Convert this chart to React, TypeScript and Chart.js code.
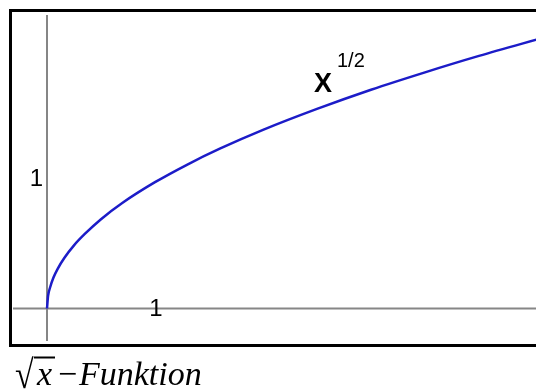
import React, { useEffect, useRef } from "react";
import { Chart, registerables } from "chart.js";

Chart.register(...registerables);

// Points (x units, y units)
const xValues = [0, 0.01, 0.03, 0.06, 0.1, 0.16, 0.25, 0.35, 0.5, 0.7, 1, 1.3, 1.6, 2, 2.5, 3, 3.5, 4, 4.6];
const yValues = [0, 0.1, 0.17, 0.245, 0.316, 0.4, 0.5, 0.59, 0.707, 0.837, 1, 1.14, 1.265, 1.414, 1.58, 1.732, 1.87, 2, 2.145];
const xTickLabels = ["1"];
const yTickLabels = ["1"];
const curveLabel = "X";
const curveExponent = "1/2";
const captionParts = ["\u221A", "x", "\u2212", "Funktion"];

const axisColor = "#868686";
const curveColor = "rgb(28,28,200)";

const decorPlugin = {
  id: "decor",
  beforeDatasetsDraw(chart: any) {
    const { ctx, scales } = chart;
    const xs = scales.x;
    const ys = scales.y;
    const x0 = xs.getPixelForValue(0);
    const y0 = ys.getPixelForValue(0);
    ctx.save();
    ctx.strokeStyle = axisColor;
    ctx.lineWidth = 2;
    ctx.beginPath();
    ctx.moveTo(x0, chart.chartArea.top);
    ctx.lineTo(x0, chart.chartArea.bottom);
    ctx.moveTo(chart.chartArea.left, y0);
    ctx.lineTo(chart.chartArea.right, y0);
    ctx.stroke();
    ctx.restore();
  },
  afterDraw(chart: any) {
    const { ctx, scales } = chart;
    const xs = scales.x;
    const ys = scales.y;
    const x0 = xs.getPixelForValue(0);
    const y0 = ys.getPixelForValue(0);
    ctx.save();
    // frame
    ctx.strokeStyle = "#000";
    ctx.lineWidth = 3;
    ctx.strokeRect(10.5, 10.5, 700, 335);

    // tick labels
    ctx.fillStyle = "#000";
    ctx.font = "24px 'Liberation Sans', Arial, sans-serif";
    ctx.textBaseline = "middle";
    ctx.textAlign = "center";
    ctx.fillText(xTickLabels[0], xs.getPixelForValue(1) + 1, y0 + 1);
    ctx.textAlign = "right";
    ctx.fillText(yTickLabels[0], x0 - 4, ys.getPixelForValue(1) - 3);

    // curve label
    ctx.textBaseline = "alphabetic";
    ctx.textAlign = "left";
    ctx.font = "bold 27px 'Liberation Sans', Arial, sans-serif";
    ctx.fillText(curveLabel, 314, 92);
    ctx.font = "20px 'Liberation Sans', Arial, sans-serif";
    ctx.fillText(curveExponent, 337, 67);

    // caption
    const base = 385;
    ctx.save();
    ctx.translate(15, base + 3);
    ctx.scale(0.85, 1);
    ctx.font = "40px 'Liberation Serif', 'Times New Roman', serif";
    ctx.fillText(captionParts[0], 0, 0);
    ctx.restore();
    ctx.strokeStyle = "#000";
    ctx.lineWidth = 2;
    ctx.beginPath();
    ctx.moveTo(34, 357.5);
    ctx.lineTo(55, 357.5);
    ctx.stroke();
    ctx.font = "italic 34px 'Liberation Serif', 'Times New Roman', serif";
    ctx.fillText(captionParts[1], 37, base);
    ctx.font = "34px 'Liberation Serif', 'Times New Roman', serif";
    ctx.fillText(captionParts[2], 58, base);
    ctx.font = "italic 34px 'Liberation Serif', 'Times New Roman', serif";
    ctx.fillText(captionParts[3], 79, base);
    ctx.restore();
  },
};

export default function App() {
  const canvasRef = useRef<HTMLCanvasElement | null>(null);

  useEffect(() => {
    if (!canvasRef.current) return;
    const chart = new Chart(canvasRef.current, {
      type: "scatter",
      data: {
        datasets: [
          {
            data: xValues.map((x, i) => ({ x, y: yValues[i] })),
            showLine: true,
            borderColor: curveColor,
            borderWidth: 2.5,
            pointRadius: 0,
            cubicInterpolationMode: "monotone",
            fill: false,
          },
        ],
      },
      options: {
        animation: false,
        responsive: false,
        devicePixelRatio: 1,
        layout: { padding: { left: 13, top: 15, right: 0, bottom: 51 } },
        plugins: { legend: { display: false }, tooltip: { enabled: false } },
        scales: {
          x: { type: "linear", display: false, min: -34 / 108, max: 489 / 108 },
          y: { type: "linear", display: false, min: -32.5 / 126.3, max: 293.5 / 126.3 },
        },
      },
      plugins: [decorPlugin],
    });
    return () => chart.destroy();
  }, []);

  return (
    <div style={{ position: "absolute", left: 0, top: 0, width: 536, height: 392, background: "#fff" }}>
      <canvas ref={canvasRef} width={536} height={392} />
    </div>
  );
}
